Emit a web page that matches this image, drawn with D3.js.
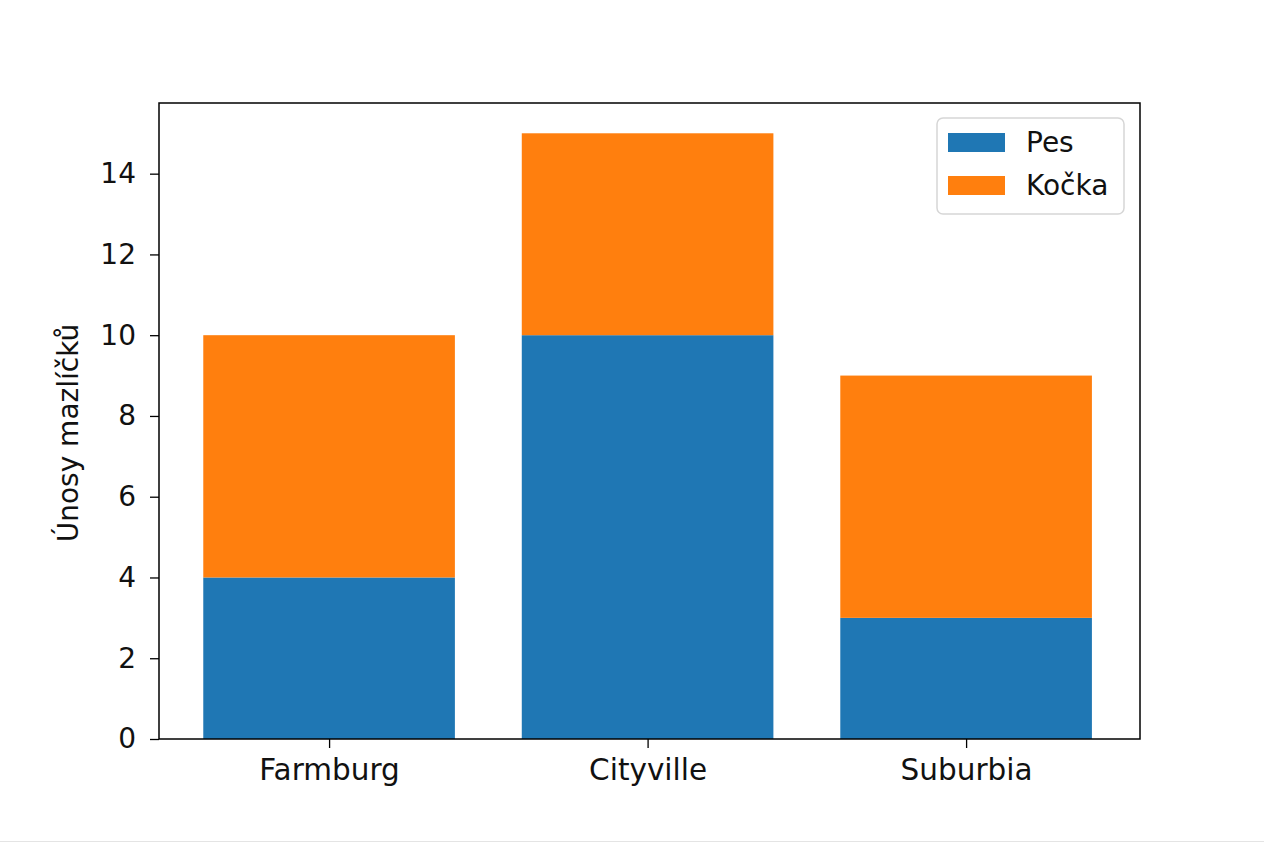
<!DOCTYPE html>
<html>
<head>
<meta charset="utf-8">
<script src="https://cdn.jsdelivr.net/npm/d3@7"></script>
<style>
  html, body { margin: 0; padding: 0; background: #fff; }
  svg { display: block; }
  text { font-family: "DejaVu Sans", sans-serif; fill: #111; }
</style>
</head>
<body>
<svg id="chart" width="1264" height="843"></svg>
<script>
// --- data ---
const cities = ["Farmburg", "Cityville", "Suburbia"];
const pes = [4, 10, 3];
const kocka = [6, 5, 6];
const seriesNames = ["Pes", "Kočka"];
const seriesColors = ["#1f77b4", "#ff7f0e"];
const yTicks = [0, 2, 4, 6, 8, 10, 12, 14];
const yLabel = "Únosy mazlíčků";

const W = 1264, H = 843;
const plot = { left: 159, right: 1140, top: 103, bottom: 739 };
const FONT = 28;
const XFONT = 29.5;
const BAR_W = 0.79;

const svg = d3.select("#chart");

// faint bottom edge line seen in the reference
svg.append("line")
    .attr("x1", 0).attr("x2", W)
    .attr("y1", 841.5).attr("y2", 841.5)
    .attr("stroke", "#e4e4e4").attr("stroke-width", 1);

const x = d3.scaleLinear()
    .domain([-0.534, cities.length - 1 + 0.546])
    .range([plot.left, plot.right]);

const y = d3.scaleLinear()
    .domain([0, 15.75])
    .range([plot.bottom, plot.top]);

// stack the two series
const rows = cities.map((c, i) => ({ city: c, i: i, Pes: pes[i], "Kočka": kocka[i] }));
const stacked = d3.stack().keys(seriesNames)(rows);

const g = svg.append("g");

stacked.forEach((layer, k) => {
    g.selectAll(".bar-" + k)
        .data(layer)
        .enter().append("rect")
        .attr("class", "bar-" + k)
        .attr("x", d => x(d.data.i - BAR_W / 2))
        .attr("width", d => x(d.data.i + BAR_W / 2) - x(d.data.i - BAR_W / 2))
        .attr("y", d => y(d[1]))
        .attr("height", d => y(d[0]) - y(d[1]))
        .attr("fill", seriesColors[k]);
});

// y axis
const yAxis = d3.axisLeft(y)
    .tickValues(yTicks)
    .tickSize(9)
    .tickPadding(14)
    .tickFormat(d3.format("d"));

const yG = svg.append("g")
    .attr("transform", `translate(${plot.left},0)`)
    .call(yAxis);
yG.select(".domain").remove();
yG.selectAll(".tick line").attr("stroke", "#000").attr("stroke-width", 1.3);
yG.selectAll(".tick text")
    .style("font-size", FONT + "px")
    .style("font-family", "DejaVu Sans")
    .attr("fill", "#111");

// x axis
const xAxis = d3.axisBottom(x)
    .tickValues(d3.range(cities.length))
    .tickSize(9)
    .tickPadding(11)
    .tickFormat(i => cities[i]);

const xG = svg.append("g")
    .attr("transform", `translate(0,${plot.bottom})`)
    .call(xAxis);
xG.select(".domain").remove();
xG.selectAll(".tick line").attr("stroke", "#000").attr("stroke-width", 1.3);
xG.selectAll(".tick text")
    .style("font-size", XFONT + "px")
    .style("font-family", "DejaVu Sans")
    .attr("fill", "#111");

// spines
svg.append("rect")
    .attr("x", plot.left).attr("y", plot.top)
    .attr("width", plot.right - plot.left)
    .attr("height", plot.bottom - plot.top)
    .attr("fill", "none")
    .attr("stroke", "#000")
    .attr("stroke-width", 1.5);

// y label
svg.append("text")
    .attr("transform", `translate(78,${(plot.top + plot.bottom) / 2 + 12}) rotate(-90)`)
    .attr("text-anchor", "middle")
    .style("font-size", FONT + "px")
    .text(yLabel);

// legend
const legend = svg.append("g").attr("transform", "translate(937,118)");
legend.append("rect")
    .attr("width", 187).attr("height", 96)
    .attr("rx", 6)
    .attr("fill", "#fff")
    .attr("fill-opacity", 0.8)
    .attr("stroke", "#d6d6d6")
    .attr("stroke-width", 1.5);

seriesNames.forEach((name, k) => {
    const row = legend.append("g").attr("transform", `translate(0,${15 + k * 43})`);
    row.append("rect")
        .attr("x", 11).attr("y", 0)
        .attr("width", 57).attr("height", 19)
        .attr("fill", seriesColors[k]);
    row.append("text")
        .attr("x", 89).attr("y", 19)
        .style("font-size", FONT + "px")
        .text(name);
});
</script>
</body>
</html>
